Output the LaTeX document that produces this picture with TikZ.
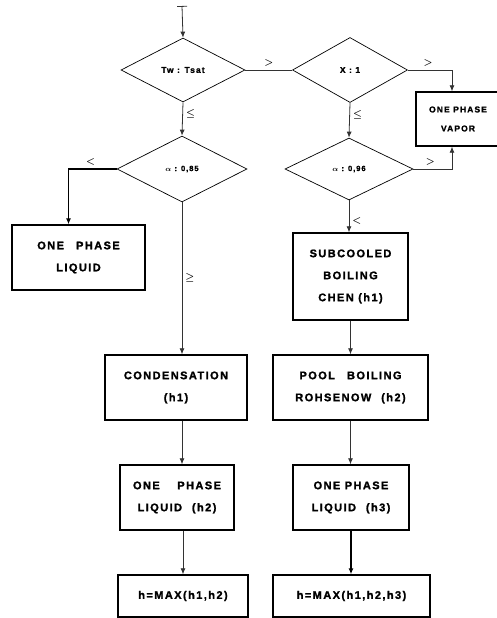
\documentclass[tikz,border=0pt]{standalone}
\usepackage{amsmath}
\usepackage{fontspec}
\setsansfont{Liberation Sans}[LetterSpace=13,BoldFeatures={FakeBold=1.6}]
\usetikzlibrary{shapes.geometric,arrows.meta}

\tikzset{
  blk/.style={rectangle,draw,line width=1.4pt,align=center,inner sep=0pt,
    font=\sffamily\bfseries\fontsize{11}{22}\selectfont},
  test/.style={diamond,draw,line width=.7pt,inner sep=0pt,
    font=\sffamily\bfseries\fontsize{8.5}{10}\selectfont},
  flow/.style={line width=.8pt,draw=black!80,-{Latex[length=6pt,width=5pt]}},
  sgn/.style={font=\normalsize\boldmath,inner sep=3pt}
}

\begin{document}
\begin{tikzpicture}[x=1pt,y=-1pt]

      \useasboundingbox (0,0) rectangle (497,618);

      \coordinate (start) at (182,6);

      % decisions
      \begin{scope}[every node/.style={test}]
        \node[minimum width=124pt,minimum height=64pt] (tw)  at (183,70)  {Tw : Tsat};
        \node[minimum width=115pt,minimum height=65pt] (x)   at (350,70)  {X : 1};
        \node[minimum width=130pt,minimum height=66pt,font=\sffamily\bfseries\fontsize{7.5}{9}\selectfont]
          (a85) at (182,169) {$\boldsymbol{\alpha}$ : 0,85};
        \node[minimum width=128pt,minimum height=62pt,font=\sffamily\bfseries\fontsize{7.5}{9}\selectfont]
          (a96) at (349,169) {$\boldsymbol{\alpha}$ : 0,96};
      \end{scope}

      % blocks
      \begin{scope}[every node/.style={blk}]
        \node[minimum width=84pt,minimum height=54pt,font=\sffamily\bfseries\fontsize{8.5}{19}\selectfont]
          (vap) at (458,119) {ONE PHASE\\VAPOR};
        \node[minimum width=133pt,minimum height=65pt] (liq)  at (78.5,257.5) {ONE\hspace{1.1em}PHASE\\LIQUID};
        \node[minimum width=115pt,minimum height=87pt] (sub)  at (350.5,276.5) {SUBCOOLED\\BOILING\\CHEN (h1)};
        \node[minimum width=142pt,minimum height=65pt] (cond) at (176,387.5) {CONDENSATION\\(h1)};
        \node[minimum width=155pt,minimum height=65pt] (pool) at (350.5,387.5) {POOL\hspace{1.1em}BOILING\\ROHSENOW\hspace{.9em}(h2)};
        \node[minimum width=114pt,minimum height=65pt] (liq2) at (177,497.5) {ONE\hspace{1.6em}PHASE\\LIQUID\hspace{.9em}(h2)};
        \node[minimum width=116pt,minimum height=65pt] (liq3) at (351,497.5) {ONE PHASE\\LIQUID\hspace{.9em}(h3)};
        \node[minimum width=130pt,minimum height=42pt] (max2) at (183,596) {h=MAX(h1,h2)};
        \node[minimum width=157pt,minimum height=42pt] (max3) at (351.5,596) {h=MAX(h1,h2,h3)};
      \end{scope}

      \draw[flow,{Bar[width=10pt]}-{Latex[length=6pt,width=5pt]}] (start) -- (tw.north);
      \draw[flow,-] (tw.east) -- node[sgn,above] {$>$} (x.west);
      \draw[flow] (x.east) -| node[sgn,above,pos=.23] {$>$} ([xshift=-6pt]vap.north);
      \draw[flow] (a96.east) -| node[sgn,above,pos=.22] {$>$} ([xshift=-6pt]vap.south);
      \draw[flow] (tw.south) -- node[sgn,right,pos=.35] {$\leq$} (a85.north);
      \draw[flow] (x.south) -- node[sgn,right,pos=.35] {$\leq$} (a96.north);
      \draw[flow,line width=1.3pt,draw=black] (a85.west) -| node[sgn,above,pos=.27] {$<$} ([xshift=-10pt]liq.north);
      \draw[flow] (a85.south) -- node[sgn,right] {$\geq$} (a85.south |- cond.north);
      \draw[flow] (a96.south) -- node[sgn,right,pos=.65] {$<$} (a96.south |- sub.north);
      \draw[flow] (sub.south) -- (sub.south |- pool.north);
      \draw[flow] (cond.south -| a85.south) -- (a85.south |- liq2.north);
      \draw[flow] (pool.south) -- (pool.south |- liq3.north);
      \draw[flow] (liq2.south -| max2.north) -- (max2.north);
      \draw[flow,line width=1.2pt,draw=black] (liq3.south) -- (liq3.south |- max3.north);

    \end{tikzpicture}
\end{document}
